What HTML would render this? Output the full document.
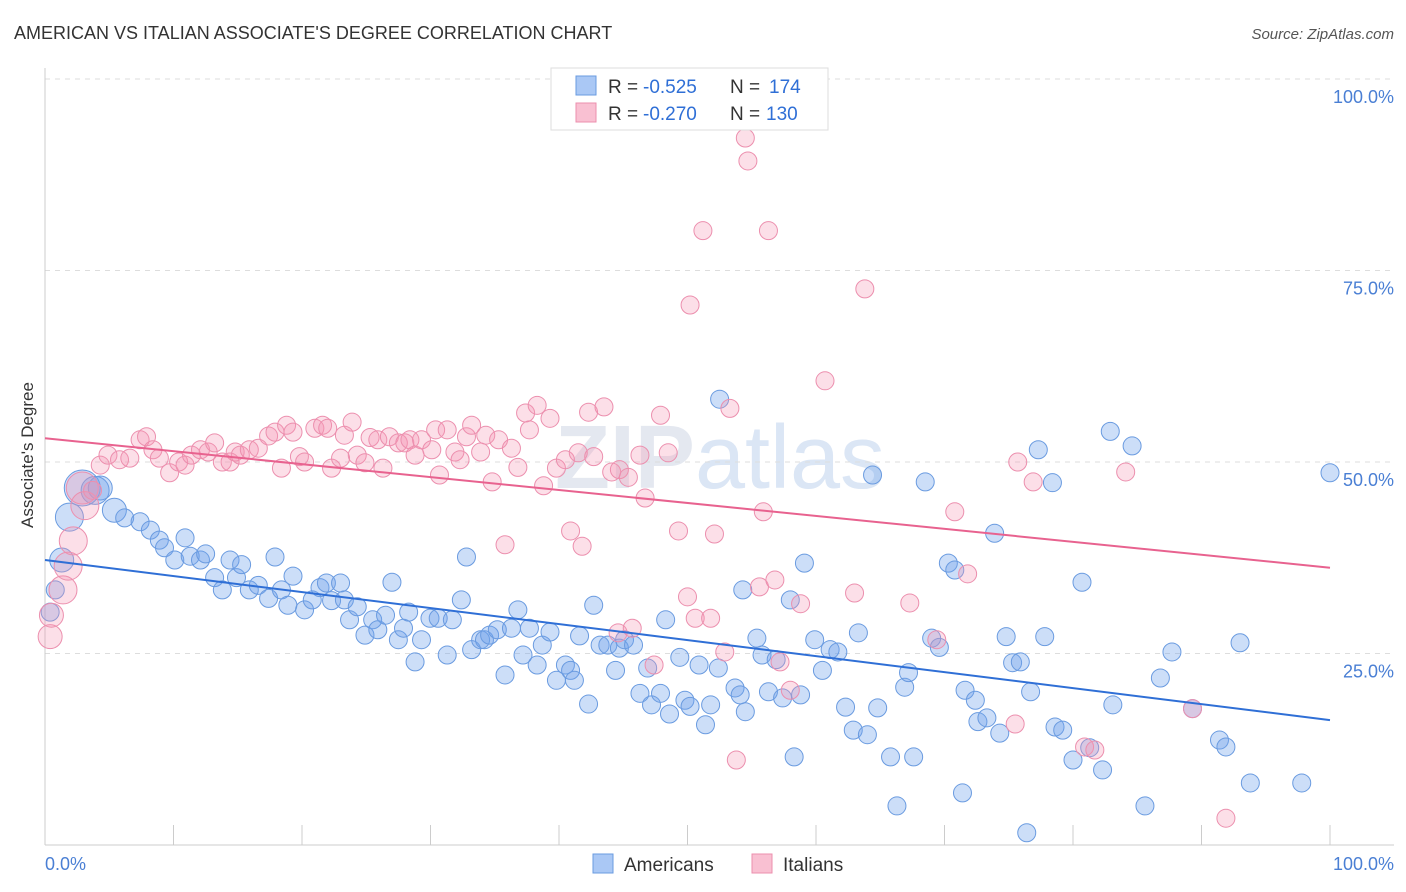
<!DOCTYPE html>
<html><head><meta charset="utf-8"><style>
body{margin:0;background:#fff;font-family:"Liberation Sans",sans-serif;}
svg{display:block}
</style></head><body>
<svg id="chart" width="1406" height="892">
<text x="14" y="39" font-size="18" fill="#333">AMERICAN VS ITALIAN ASSOCIATE'S DEGREE CORRELATION CHART</text>
<text x="1394" y="39" font-size="15" fill="#555" font-style="italic" text-anchor="end">Source: ZipAtlas.com</text>
<text x="720" y="488" font-size="90" fill="#e4e8f0" text-anchor="middle" font-weight="bold">ZIP<tspan fill="#dbe6f5" font-weight="normal">atlas</tspan></text>
<g id="grid"></g><g id="marks"></g><g id="lines"></g>
<text transform="translate(33,455) rotate(-90)" font-size="17" fill="#333" text-anchor="middle">Associate's Degree</text>
<text x="45" y="870" font-size="18" fill="#4a7fd4">0.0%</text>
<text x="1394" y="870" font-size="18" fill="#4a7fd4" text-anchor="end">100.0%</text>
<g>
<rect x="551" y="68" width="277" height="62" fill="#fff" stroke="#ddd"/>
<rect x="576" y="76" width="20" height="19" fill="#aac8f5" stroke="#6a9be0"/>
<rect x="576" y="103" width="20" height="19" fill="#f9c0d2" stroke="#ec8fae"/>
<text x="608" y="93" font-size="19" fill="#333">R =</text>
<text x="643" y="93" font-size="19" fill="#2f6fd6">-0.525</text>
<text x="730" y="93" font-size="19" fill="#333">N =</text>
<text x="769" y="93" font-size="19" fill="#2f6fd6">174</text>
<text x="608" y="120" font-size="19" fill="#333">R =</text>
<text x="643" y="120" font-size="19" fill="#2f6fd6">-0.270</text>
<text x="730" y="120" font-size="19" fill="#333">N =</text>
<text x="766" y="120" font-size="19" fill="#2f6fd6">130</text>
</g>
<g>
<rect x="593" y="854" width="20" height="19" fill="#aac8f5" stroke="#6a9be0"/>
<text x="624" y="871" font-size="19" fill="#333">Americans</text>
<rect x="752" y="854" width="20" height="19" fill="#f9c0d2" stroke="#ec8fae"/>
<text x="783" y="871" font-size="19" fill="#333">Italians</text>
</g>
</svg>
<script>
const yTicks=[25,50,75,100];
const yTickLabels=["25.0%","50.0%","75.0%","100.0%"];
const xTicks=[0,10,20,30,40,50,60,70,80,90,100];
const amX=[2.9,3.9,4.3,1.9,1.3,0.8,0.4,5.4,6.2,7.4,8.2,8.9,9.3,10.1,10.9,11.3,12.1,12.5,13.2,13.8,14.4,14.9,15.3,15.9,16.6,17.4,17.9,18.4,19.3,18.9,20.2,20.8,21.4,21.9,22.3,23.0,23.3,23.7,24.3,24.9,25.5,25.9,26.5,27.0,27.5,27.9,28.3,28.8,29.3,29.96,30.6,31.3,31.7,32.4,32.8,33.2,33.9,34.2,34.6,35.2,35.8,36.3,36.8,37.2,37.7,38.3,38.7,39.3,39.8,40.5,40.9,41.2,41.6,42.3,42.7,43.2,43.8,44.4,44.7,45.1,45.8,46.3,46.9,47.2,47.9,48.3,48.6,49.4,49.8,50.2,50.9,51.4,51.8,52.4,52.5,53.7,54.1,54.5,54.3,55.4,55.8,56.3,56.9,57.4,58.0,58.3,58.8,59.1,59.9,60.5,61.1,61.7,62.3,62.9,63.3,64.0,64.4,64.8,65.8,66.3,66.9,67.2,67.6,68.5,69.0,69.6,70.3,70.8,71.4,71.6,72.4,72.6,73.3,73.9,74.3,74.8,75.3,75.9,76.4,76.7,77.3,77.8,78.4,78.6,79.2,80.0,80.7,81.3,82.3,82.9,83.1,84.6,85.6,86.8,87.7,89.3,91.4,91.9,93.0,93.8,97.8,100];
const amY=[46.6,46.3,46.6,42.8,37.2,33.3,30.4,43.7,42.7,42.2,41.1,39.8,38.8,37.2,40.1,37.7,37.2,38.0,34.9,33.3,37.2,34.9,36.6,33.3,33.9,32.2,37.6,33.3,35.1,31.3,30.7,32.0,33.6,34.2,31.9,34.2,32.0,29.4,31.1,27.4,29.4,28.1,30.0,34.3,26.8,28.3,30.4,23.9,26.8,29.6,29.6,24.8,29.4,32.0,37.6,25.5,26.8,26.8,27.4,28.1,22.2,28.3,30.7,24.8,28.3,23.5,26.1,27.8,21.5,23.5,22.8,21.5,27.3,18.4,31.3,26.1,26.1,22.8,25.7,26.8,26.1,19.8,23.1,18.3,19.8,29.4,17.1,24.5,18.9,18.1,23.5,15.7,18.3,23.1,58.2,20.5,19.6,17.4,33.3,27.0,24.8,20.0,24.2,19.2,32.0,11.5,19.6,36.8,26.8,22.8,25.5,25.2,18.0,15.0,27.7,14.4,48.3,17.9,11.5,5.1,20.6,22.5,11.5,47.4,27.0,25.8,36.8,35.9,6.8,20.2,18.9,16.1,16.6,40.7,14.6,27.2,23.8,23.9,1.6,20.0,51.6,27.2,47.3,15.4,15.0,11.1,34.3,12.7,9.8,54.0,18.3,52.1,5.1,21.8,25.2,17.8,13.7,12.8,26.4,8.1,8.1,48.6];
const amR={0:18,1:14,2:12,3:14,4:12,7:12};
const itX=[2.9,0.4,0.5,1.4,1.8,2.2,3.1,3.7,4.3,4.9,5.8,6.6,7.4,7.9,8.4,8.9,9.7,10.4,10.9,11.4,12.1,12.7,13.2,13.8,14.4,14.8,15.2,15.9,16.6,17.4,17.9,18.4,18.8,19.3,19.8,20.2,21.0,21.6,22.0,22.3,23.0,23.3,23.9,24.3,24.9,25.3,25.9,26.3,26.8,27.5,28.0,28.4,28.8,29.3,30.1,30.4,30.7,31.3,31.9,32.3,32.8,33.2,33.9,34.3,34.8,35.3,35.8,36.3,36.8,37.4,37.7,38.3,38.8,39.3,39.8,40.5,40.9,41.5,41.8,42.3,42.7,43.5,44.1,44.6,44.7,45.4,45.7,46.3,46.7,47.4,47.9,48.5,49.3,50.0,50.2,50.6,51.2,51.8,52.1,52.9,53.3,53.8,54.5,54.7,55.6,55.9,56.3,56.8,57.2,58.0,58.8,60.7,63.0,63.8,67.3,69.4,70.8,71.8,75.5,75.7,76.9,80.9,81.7,84.1,89.3,91.9];
const itY=[46.6,27.2,30.0,33.3,36.4,39.7,44.3,46.3,49.6,50.9,50.3,50.5,52.9,53.3,51.6,50.5,48.6,50.0,49.6,50.9,51.6,51.3,52.5,50.0,50.0,51.3,50.9,51.6,51.8,53.4,53.9,49.2,54.8,53.9,50.7,50.0,54.4,54.8,54.4,49.2,50.5,53.5,55.2,50.9,49.9,53.2,52.9,49.2,53.3,52.5,52.5,52.9,50.9,52.9,51.6,54.2,48.3,54.2,51.3,50.3,53.3,54.8,51.3,53.5,47.4,52.9,39.2,51.8,49.3,56.4,54.2,57.4,46.9,55.7,49.2,50.3,41.0,51.2,39.0,56.5,50.7,57.2,48.7,27.7,49.0,48.0,28.3,50.9,45.3,23.5,56.1,51.2,41.0,32.4,70.5,29.6,80.2,29.6,40.6,25.2,57.0,11.1,92.3,89.3,33.7,43.5,80.2,34.6,23.9,20.2,31.5,60.6,32.9,72.6,31.6,26.8,43.5,35.4,15.8,50.0,47.4,12.8,12.4,48.7,17.8,3.5];
const itR={0:16,1:12,2:12,3:14,4:14,5:14,6:14};
const amTrend=[37.2,16.3];
const itTrend=[53.1,36.2];
const NS="http://www.w3.org/2000/svg";
const X0=45,X1=1330,Y0=845,Y100=79;
const sx=v=>X0+(X1-X0)*v/100, sy=v=>Y0-(Y0-Y100)*v/100;
function mk(tag,attrs,parent){const e=document.createElementNS(NS,tag);for(const k in attrs)e.setAttribute(k,attrs[k]);parent.appendChild(e);return e;}
const grid=document.getElementById('grid'),marks=document.getElementById('marks'),lines=document.getElementById('lines');
yTicks.forEach((t,i)=>{
 const g=mk('line',{x1:X0,x2:1394,y1:sy(t),y2:sy(t),stroke:'#ddd','stroke-dasharray':'5,5'},grid);
 
 
 const l=mk('text',{x:1394,y:sy(t)+24,'font-size':18,fill:'#4a7fd4','text-anchor':'end'},grid);
 l.textContent=yTickLabels[i];
 
 
});
const ax=mk('line',{x1:X0,x2:1394,y1:Y0,y2:Y0,stroke:'#ccc'},grid);


const ay=mk('line',{x1:X0,x2:X0,y1:68,y2:Y0,stroke:'#ccc'},grid);


xTicks.forEach(t=>{
 const k=mk('line',{x1:sx(t),x2:sx(t),y1:Y0,y2:Y0-20,stroke:'#ccc'},grid);
 
 
});
amX.forEach((x,i)=>{
 const c=mk('circle',{cx:sx(x),cy:sy(amY[i]),r:amR[i]||9,fill:'rgba(110,160,235,0.35)',stroke:'#6a9be0','stroke-width':1},marks);
 
 
});
itX.forEach((x,i)=>{
 const c=mk('circle',{cx:sx(x),cy:sy(itY[i]),r:itR[i]||9,fill:'rgba(245,150,180,0.3)',stroke:'#ec8fae','stroke-width':1},marks);
 
 
});
const tl1=mk('line',{x1:sx(0),y1:sy(amTrend[0]),x2:sx(100),y2:sy(amTrend[1]),stroke:'#2f6fd6','stroke-width':2},lines);


const tl2=mk('line',{x1:sx(0),y1:sy(itTrend[0]),x2:sx(100),y2:sy(itTrend[1]),stroke:'#e8628f','stroke-width':2},lines);


</script>
</body></html>
